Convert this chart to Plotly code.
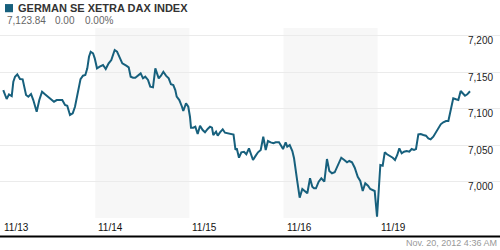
import plotly.graph_objects as go

# ---- data ----
title = "GERMAN SE XETRA DAX INDEX"
last_price = "7,123.84"
change = "0.00"
change_pct = "0.00%"
timestamp = "Nov. 20, 2012 4:36 AM"
day_labels = ["11/13", "11/14", "11/15", "11/16", "11/19"]
y_ticks = [6950, 7000, 7050, 7100, 7150, 7200]
y_tick_labels = ["", "7,000", "7,050", "7,100", "7,150", "7,200"]

# time in trading days since the 11/13 open
times = [
    0.022, 0.058, 0.083, 0.112, 0.129, 0.147, 0.171, 0.200, 0.228, 0.264,
    0.288, 0.317, 0.341, 0.377, 0.405, 0.434, 0.465, 0.501, 0.537, 0.561,
    0.590, 0.625, 0.649, 0.678, 0.702, 0.731, 0.760, 0.784, 0.811, 0.843,
    0.869, 0.894, 0.915, 0.933, 0.951, 0.976, 0.994,
    1.018, 1.047, 1.082, 1.111, 1.142, 1.170, 1.206, 1.231, 1.259, 1.287,
    1.329, 1.355, 1.376, 1.401, 1.425, 1.454, 1.482, 1.507, 1.531, 1.560,
    1.584, 1.613, 1.638, 1.674, 1.698, 1.723, 1.751, 1.780, 1.804, 1.829,
    1.850, 1.865, 1.893, 1.921, 1.935, 1.964, 1.988,
    2.006, 2.017, 2.041, 2.063, 2.088, 2.113, 2.141, 2.166, 2.194, 2.219,
    2.240, 2.254, 2.283, 2.301, 2.325, 2.354, 2.378, 2.407, 2.442, 2.469,
    2.490, 2.503, 2.527, 2.552, 2.580, 2.605, 2.633, 2.651, 2.676, 2.705,
    2.729, 2.758, 2.785, 2.811, 2.835, 2.864, 2.892, 2.917, 2.952, 2.970,
    2.995,
    3.023, 3.040, 3.066, 3.094, 3.112, 3.130, 3.147, 3.172, 3.200, 3.225,
    3.253, 3.282, 3.306, 3.324, 3.345, 3.374, 3.402, 3.434, 3.462, 3.487,
    3.515, 3.544, 3.569, 3.587, 3.614, 3.646, 3.675, 3.699, 3.728, 3.757,
    3.789, 3.816, 3.842, 3.869, 3.898, 3.922, 3.948, 3.969, 3.994,
    4.012, 4.029, 4.054, 4.076, 4.100, 4.124, 4.161, 4.185, 4.209, 4.231,
    4.256, 4.281, 4.309, 4.337, 4.362, 4.387, 4.408, 4.433, 4.458, 4.486,
    4.514, 4.539, 4.564, 4.592, 4.621, 4.645, 4.671, 4.698, 4.727, 4.752,
    4.777, 4.804, 4.833, 4.858, 4.883, 4.904, 4.929, 4.953, 4.982,
]
prices = [
    7125.5, 7113.2, 7119.6, 7117.3, 7136.9, 7143.8, 7147.1, 7140.6, 7140.2, 7118.7,
    7116.4, 7120.1, 7111.8, 7095.8, 7111.8, 7123.2, 7119.6, 7115.5, 7111.8, 7109.5,
    7111.8, 7111.8, 7111.8, 7105.0, 7104.0, 7091.3, 7093.6, 7102.6, 7121.0, 7140.6,
    7145.2, 7146.1, 7155.3, 7171.2, 7178.1, 7175.9, 7169.0,
    7155.3, 7157.5, 7159.8, 7154.3, 7162.2, 7166.7, 7180.4, 7178.1, 7169.0, 7162.2,
    7158.9, 7156.7, 7143.8, 7142.4, 7142.4, 7146.1, 7148.4, 7141.6, 7143.8, 7139.3,
    7130.1, 7129.2, 7155.3, 7141.6, 7145.2, 7150.6, 7145.2, 7141.6, 7133.4, 7132.4,
    7125.5, 7116.4, 7111.8, 7102.6, 7096.7, 7107.3, 7102.6,
    7088.9, 7073.9, 7073.9, 7075.2, 7065.2, 7076.6, 7070.7, 7067.5, 7072.1, 7075.2,
    7073.9, 7063.8, 7068.4, 7062.9, 7067.5, 7071.7, 7067.0, 7066.2, 7066.2, 7064.5,
    7043.3, 7045.6, 7032.7, 7040.1, 7040.9, 7037.4, 7045.6, 7038.7, 7029.6, 7035.5,
    7040.1, 7043.3, 7061.5, 7043.3, 7055.6, 7053.8, 7052.5, 7053.8, 7053.8, 7050.1,
    7044.6,
    7053.8, 7047.8, 7050.1, 7041.9, 7031.9, 7018.2, 6999.8, 6977.9, 6989.8, 6987.0,
    6983.9, 7004.5, 6992.9, 6990.7, 6990.7, 6999.8, 7004.5, 6999.8, 7030.9, 7014.5,
    7011.3, 7012.7, 7020.4, 7025.0, 7032.7, 7029.6, 7026.4, 7028.2, 7026.4, 7019.0,
    7006.6, 7000.8, 6987.0, 6997.6, 6994.3, 6989.8, 6988.4, 6987.0, 6951.8,
    6986.1, 7022.7, 7021.7, 7040.1, 7037.4, 7035.5, 7032.7, 7029.6, 7036.4, 7045.6,
    7038.7, 7040.9, 7041.9, 7040.9, 7044.6, 7043.3, 7044.6, 7064.8, 7065.2, 7063.8,
    7062.9, 7059.3, 7057.9, 7061.5, 7068.4, 7073.9, 7078.5, 7081.3, 7083.0, 7083.0,
    7098.1, 7114.2, 7112.8, 7111.8, 7124.2, 7121.0, 7117.7, 7119.6, 7123.84,
]

LINE = "#17607d"
FONT = "Liberation Sans, Arial, sans-serif"

fig = go.Figure()
fig.add_trace(go.Scatter(x=times, y=prices, mode="lines",
                         line=dict(color=LINE, width=2), hoverinfo="skip"))

shapes = []
# alternating day shading (days 2 and 4)
for d in (1, 3):
    shapes.append(dict(type="rect", xref="x", yref="paper", x0=d, x1=d + 1,
                       y0=0, y1=1, fillcolor="#f7f7f7", line=dict(width=0),
                       layer="below"))
# bottom black rule
shapes.append(dict(type="line", xref="paper", yref="paper", x0=0, x1=1,
                   y0=-0.098, y1=-0.098, line=dict(color="black", width=2)))
# header swatch
shapes.append(dict(type="rect", xref="paper", yref="paper", x0=0.010, x1=0.026,
                   y0=1.083, y1=1.126, fillcolor=LINE, line=dict(width=0)))

ann = []
ann.append(dict(text="<b>" + title + "</b>", xref="paper", yref="paper",
                x=0.031, y=1.103, xanchor="left", yanchor="middle", showarrow=False,
                font=dict(family=FONT, size=11, color="#333333")))
for txt, xp in ((last_price, 0.009), (change, 0.106), (change_pct, 0.166)):
    ann.append(dict(text=txt, xref="paper", yref="paper", x=xp, y=1.04,
                    xanchor="left", yanchor="middle", showarrow=False,
                    font=dict(family=FONT, size=10, color="#666666")))
for v, lab in zip(y_ticks, y_tick_labels):
    if lab:
        ann.append(dict(text=lab, xref="paper", yref="y", x=1, y=v, xshift=-5,
                        yshift=-5, xanchor="right", yanchor="middle", showarrow=False,
                        font=dict(family=FONT, size=10, color="#222222")))
for i, lab in enumerate(day_labels):
    ann.append(dict(text=lab, xref="x", yref="paper", x=i, y=0, xshift=1,
                    yshift=-9, xanchor="left", yanchor="middle", showarrow=False,
                    font=dict(family=FONT, size=10, color="#111111")))
ann.append(dict(text=timestamp, xref="paper", yref="paper", x=1, y=0, xshift=-1,
                yshift=-25, xanchor="right", yanchor="middle", showarrow=False,
                font=dict(family=FONT, size=9, color="#999999")))

fig.update_layout(
    width=500, height=250,
    margin=dict(l=0, r=0, t=28, b=32),
    paper_bgcolor="white", plot_bgcolor="white",
    showlegend=False,
    shapes=shapes, annotations=ann,
    xaxis=dict(range=[-0.0128, 5.3008], showgrid=False, zeroline=False,
               showticklabels=False, ticks="", fixedrange=True),
    yaxis=dict(range=[6950, 7210.6], tickvals=y_ticks, showticklabels=False,
               showgrid=True, gridcolor="#ebebeb", gridwidth=1, zeroline=False,
               ticks="", fixedrange=True),
)

fig.write_html("out.html", config={"displayModeBar": False})
